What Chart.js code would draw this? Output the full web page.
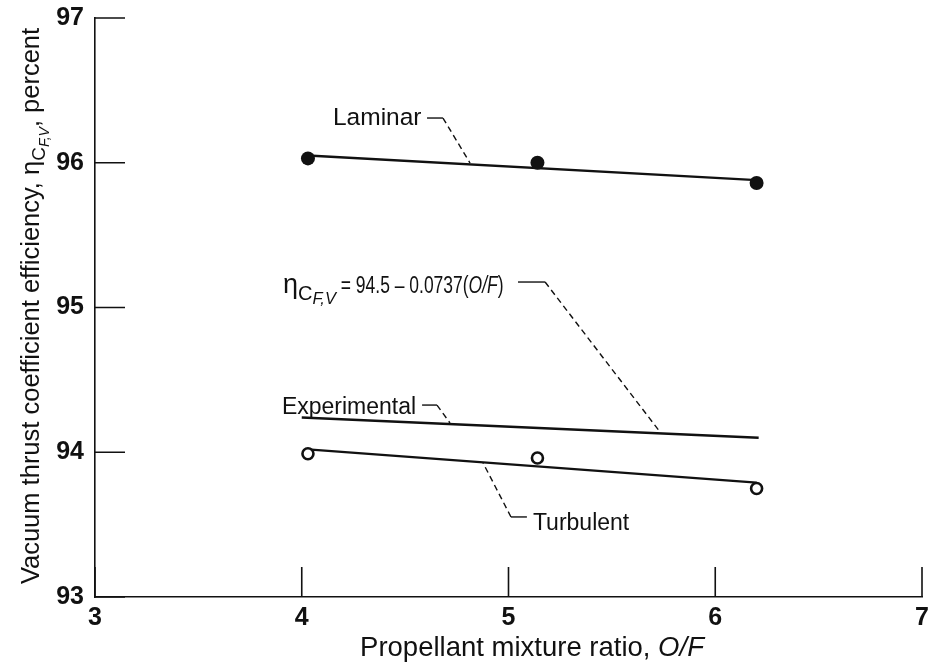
<!DOCTYPE html>
<html>
<head>
<meta charset="utf-8">
<script src="https://cdn.jsdelivr.net/npm/chart.js@4.4.1/dist/chart.umd.min.js"></script>
<style>
  body { margin: 0; background: #fff; }
  #wrap { width: 933px; height: 664px; }
</style>
</head>
<body>
<div id="wrap"><canvas id="effChart"></canvas></div>
<script>
    // values
    const laminarOF = [4.03, 5.14, 6.20];
    const laminarEff = [96.03, 96.00, 95.86];
    const turbulentOF = [4.03, 5.14, 6.20];
    const turbulentEff = [93.99, 93.96, 93.75];

    // faired lines
    const laminarFitOF = [4.03, 6.20];
    const laminarFitEff = [96.05, 95.88];
    const experimentalFitOF = [4.00, 6.21];
    const experimentalFitEff = [94.24, 94.10];
    const turbulentFitOF = [4.03, 6.20];
    const turbulentFitEff = [94.02, 93.79];

    const xTicks = [3, 4, 5, 6, 7];
    const yTicks = [93, 94, 95, 96, 97];

    const FONT = '"Liberation Sans", Arial, Helvetica, sans-serif';
    const INK = '#111';

    const toPoints = (xs, ys) => xs.map((x, i) => ({ x: x, y: ys[i] }));

    // callout labels, placed in data units
    const callouts = [
        { parts: [{ text: 'Laminar' }], size: 24.5, at: [4.151, 96.261], hook: [4.606, 4.683, 96.309], dash: [[4.683, 96.309], [4.814, 95.998]] },
        { parts: [{ text: 'Experimental' }], size: 23, at: [3.904, 94.264], hook: [4.582, 4.654, 94.326], dash: [[4.654, 94.326], [4.717, 94.202]] },
        { parts: [{ text: 'Turbulent' }], size: 23, at: [5.118, 93.463], hook: [5.012, 5.089, 93.553], dash: [[5.012, 93.553], [4.877, 93.926]] },
        { parts: [
            { text: '\u03b7', size: 27 },
            { text: 'C', size: 20, dy: 7 },
            { text: 'F,V', size: 16.5, dy: 11, italic: true },
            { text: ' = 94.5 \u2013 0.0737(', sx: 0.76 },
            { text: 'O/F', italic: true, sx: 0.76 },
            { text: ')', sx: 0.76 }
          ], size: 23, at: [3.909, 95.10], hook: [5.046, 5.177, 95.176], dash: [[5.177, 95.176], [5.733, 94.14]] }
    ];

    function setFont(ctx, p, base) {
        ctx.font = (p.italic ? 'italic ' : '') + (p.size || base) + 'px ' + FONT;
    }

    function richWidth(ctx, parts, base) {
        let w = 0;
        parts.forEach(p => {
            setFont(ctx, p, base);
            w += ctx.measureText(p.text).width * (p.sx || 1);
        });
        return w;
    }

    function drawRich(ctx, x, y, parts, base) {
        let cx = x;
        parts.forEach(p => {
            const sx = p.sx || 1;
            setFont(ctx, p, base);
            ctx.save();
            ctx.translate(cx, y + (p.dy || 0));
            ctx.scale(sx, 1);
            ctx.fillText(p.text, 0, 0);
            ctx.restore();
            cx += ctx.measureText(p.text).width * sx;
        });
    }

    const figurePlugin = {
        id: 'figure',
        afterDatasetsDraw(chart) {
            const ctx = chart.ctx;
            const xs = chart.scales.x, ys = chart.scales.y;
            const area = chart.chartArea;
            ctx.save();
            ctx.strokeStyle = INK;
            ctx.fillStyle = INK;

            // inward ticks
            ctx.lineWidth = 1.6;
            ctx.beginPath();
            yTicks.forEach(v => {
                const py = ys.getPixelForValue(v);
                ctx.moveTo(area.left, py);
                ctx.lineTo(area.left + 30, py);
            });
            xTicks.forEach(v => {
                const px = xs.getPixelForValue(v);
                ctx.moveTo(px, area.bottom);
                ctx.lineTo(px, area.bottom - 30);
            });
            ctx.stroke();

            // callouts
            ctx.textBaseline = 'alphabetic';
            ctx.textAlign = 'left';
            callouts.forEach(c => {
                drawRich(ctx, xs.getPixelForValue(c.at[0]), ys.getPixelForValue(c.at[1]), c.parts, c.size);
                ctx.lineWidth = 1.4;
                ctx.setLineDash([]);
                ctx.beginPath();
                ctx.moveTo(xs.getPixelForValue(c.hook[0]), ys.getPixelForValue(c.hook[2]));
                ctx.lineTo(xs.getPixelForValue(c.hook[1]), ys.getPixelForValue(c.hook[2]));
                ctx.stroke();
                ctx.setLineDash([6, 4]);
                ctx.beginPath();
                ctx.moveTo(xs.getPixelForValue(c.dash[0][0]), ys.getPixelForValue(c.dash[0][1]));
                ctx.lineTo(xs.getPixelForValue(c.dash[1][0]), ys.getPixelForValue(c.dash[1][1]));
                ctx.stroke();
            });
            ctx.setLineDash([]);

            // x title
            const xParts = [{ text: 'Propellant mixture ratio, ' }, { text: 'O/F', italic: true }];
            const xw = richWidth(ctx, xParts, 27.5);
            drawRich(ctx, 532 - xw / 2, 656, xParts, 27.5);

            // y title, rotated
            const yParts = [
                { text: 'Vacuum thrust coefficient efficiency, \u03b7' },
                { text: 'C', size: 19, dy: 6 },
                { text: 'F,V', size: 14, dy: 10, italic: true },
                { text: ', percent' }
            ];
            const yw = richWidth(ctx, yParts, 25.5);
            ctx.translate(39, 306);
            ctx.rotate(-Math.PI / 2);
            drawRich(ctx, -yw / 2, 0, yParts, 25.5);
            ctx.restore();
        }
    };

    const ctx = document.getElementById('effChart').getContext('2d');
    const effChart = new Chart(ctx, {
        type: 'scatter',
        data: {
            datasets: [
                {
                    label: 'Laminar',
                    data: toPoints(laminarOF, laminarEff),
                    pointRadius: 7,
                    pointBackgroundColor: INK,
                    pointBorderColor: INK,
                    pointBorderWidth: 0,
                    order: 0
                },
                {
                    label: 'Turbulent',
                    data: toPoints(turbulentOF, turbulentEff),
                    pointRadius: 5.5,
                    pointBackgroundColor: '#fff',
                    pointBorderColor: INK,
                    pointBorderWidth: 2.6,
                    order: 0
                },
                {
                    label: 'Laminar fit',
                    data: toPoints(laminarFitOF, laminarFitEff),
                    showLine: true, borderColor: INK, borderWidth: 2.4, pointRadius: 0,
                    order: 1
                },
                {
                    label: 'Experimental',
                    data: toPoints(experimentalFitOF, experimentalFitEff),
                    showLine: true, borderColor: INK, borderWidth: 2.4, pointRadius: 0,
                    order: 1
                },
                {
                    label: 'Turbulent fit',
                    data: toPoints(turbulentFitOF, turbulentFitEff),
                    showLine: true, borderColor: INK, borderWidth: 2.4, pointRadius: 0,
                    order: 1
                }
            ]
        },
        options: {
            responsive: true,
            maintainAspectRatio: false,
            animation: false,
            layout: { padding: { top: 18, right: 11, left: 0, bottom: 0 } },
            plugins: {
                legend: { display: false },
                tooltip: { enabled: false }
            },
            scales: {
                x: {
                    type: 'linear',
                    min: 3, max: 7,
                    afterFit: s => { s.height = 67; s.paddingLeft = 0; s.paddingRight = 0; },
                    afterBuildTicks: s => { s.ticks = xTicks.map(v => ({ value: v })); },
                    grid: { display: false, drawTicks: false },
                    border: { display: true, color: INK, width: 1.6 },
                    ticks: { padding: 6, color: INK, font: { family: FONT, size: 25, weight: 'bold' } }
                },
                y: {
                    type: 'linear',
                    min: 93, max: 97,
                    afterFit: s => { s.width = 95; s.paddingTop = 0; s.paddingBottom = 0; },
                    afterBuildTicks: s => { s.ticks = yTicks.map(v => ({ value: v })); },
                    grid: { display: false, drawTicks: false },
                    border: { display: true, color: INK, width: 1.6 },
                    ticks: { padding: 11, color: INK, font: { family: FONT, size: 25, weight: 'bold' } }
                }
            }
        },
        plugins: [figurePlugin]
    });
</script>
</body>
</html>
